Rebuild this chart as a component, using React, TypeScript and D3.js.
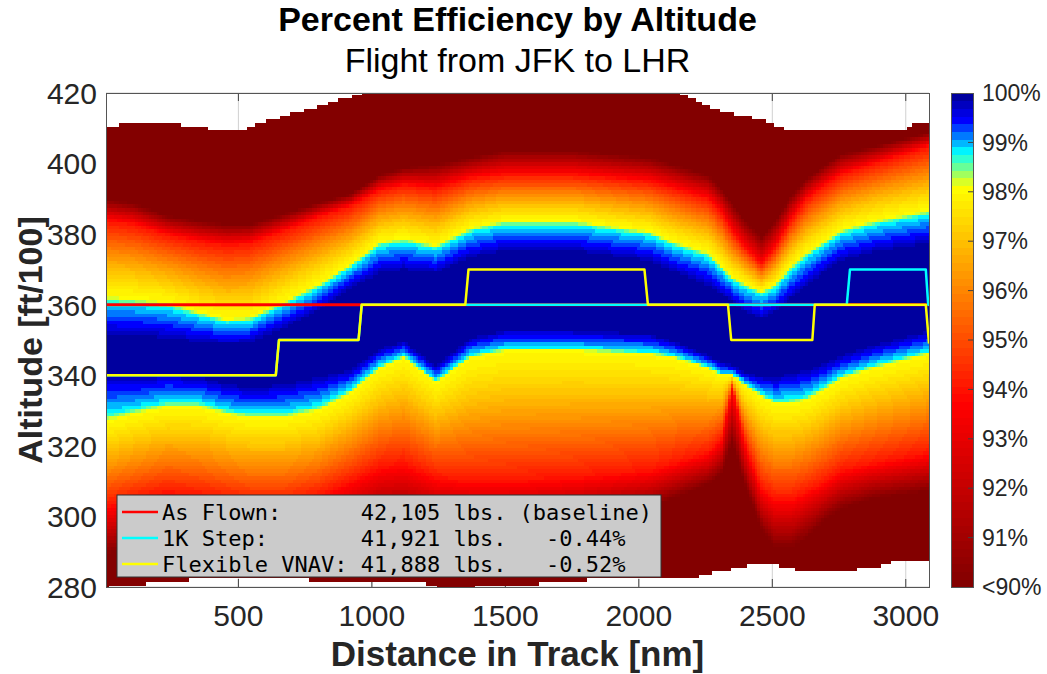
import React from "react";
import * as d3 from "d3";

const bandDist = [4, 106, 231, 356, 456, 544, 669, 800, 920, 1030, 1120, 1240, 1370, 1500, 1750, 2040, 2130, 2260, 2310, 2350, 2400, 2460, 2510, 2570, 2630, 2700, 2760, 2880, 3087];
// altitude (ft/100) where each efficiency level is reached, above and below the optimum
const upper90 = [390, 389, 385.5, 384, 383, 383, 386, 389, 391.5, 397, 399, 400, 402, 404, 404, 402, 400, 397, 393, 389, 384, 379.5, 384, 391, 396, 400, 403, 405, 409];
const upper94 = [384, 383, 380, 378, 377, 377.5, 381, 385, 388, 392.5, 394, 393, 396, 397, 397, 395, 393, 390, 386, 381, 376, 371.5, 376, 384, 390, 394, 397, 400, 405];
const upper98 = [362.5, 362, 361, 358, 356, 356.5, 361, 366, 371.5, 378, 379, 377, 382, 384, 384, 381, 378, 375, 371, 368, 366, 364, 366, 371, 375, 378.5, 381.5, 384, 387];
const coreTop = [351, 351, 350, 349, 348.5, 349, 353, 358, 364.5, 368.5, 369.5, 368.5, 373, 375, 375, 372, 369, 365, 362.5, 360.5, 357.5, 355.5, 357.5, 361.5, 365, 369, 372, 374.5, 377];
const coreBottom = [341, 340, 341, 340, 338, 337, 338, 340, 342, 348, 350, 343, 351, 353, 353, 352, 350, 346, 344, 343, 341, 340, 340, 341, 342, 344, 346, 349, 353];
const lower98 = [327, 329, 331, 331, 329, 328, 328, 330, 335, 342, 345, 338, 345, 347, 347, 346, 345, 342, 340, 340, 337, 334, 332, 332, 333, 336, 339, 342, 346];
const lower94 = [303, 305, 307, 306, 305, 304, 304, 306, 310, 314, 315, 311, 310, 310, 311, 313, 315, 318, 322, 337, 320, 308, 305, 305, 307, 310, 313, 315, 318];
const lower90 = [289, 291, 293, 293, 292, 291, 291, 292, 295, 298, 298, 297, 296, 296, 298, 302, 305, 309, 312, 321, 308, 296, 291, 291, 294, 299, 302, 305, 307];

// limits of the computed grid (white outside)
const ceilDist = [4, 56, 60, 280, 290, 375, 385, 530, 540, 588, 630, 675, 720, 769, 810, 856, 900, 944, 980, 2140, 2169, 2200, 2244, 2280, 2319, 2394, 2450, 2490, 2519, 2569, 2995, 3005, 3025, 3030, 3087];
const ceilAlt = [410, 410, 411, 411, 410, 410, 409, 409, 410, 411, 412, 413, 414, 415, 416, 417, 418, 419, 420, 420, 419, 418, 416, 415, 414, 413, 412, 411, 410, 409, 409, 410, 410, 411, 411];
const floorDist = [4, 30, 280, 356, 1181, 1268, 1744, 1869, 2200, 2300, 2380, 2420, 2500, 2550, 2620, 2750, 2880, 2960, 3087];
const floorAlt = [280, 281, 282, 283, 282, 280, 282, 283, 283, 285, 286, 287, 287, 286, 285, 285, 286, 288, 288];

// altitude profiles
const asFlownDist = [4, 3087];
const asFlownAlt = [360, 360];
const stepDist = [4, 640, 652, 950, 962, 2779, 2791, 3075, 3084, 3087];
const stepAlt = [340, 340, 350, 350, 360, 360, 370, 370, 360, 360];
const vnavDist = [4, 640, 652, 950, 962, 1350, 1362, 2021, 2034, 2334, 2346, 2650, 2659, 3075, 3087];
const vnavAlt = [340, 340, 350, 350, 360, 360, 370, 370, 360, 360, 350, 350, 360, 360, 349];

const legendColors = ["#ff0000", "#00ffff", "#ffff00"];
const legendText = [
  "As Flown:      42,105 lbs. (baseline)",
  "1K Step:       41,921 lbs.   -0.44%",
  "Flexible VNAV: 41,888 lbs.   -0.52%",
];

const xTicks = [500, 1000, 1500, 2000, 2500, 3000];
const yTicks = [280, 300, 320, 340, 360, 380, 400, 420];
const cbTicks = [90, 91, 92, 93, 94, 95, 96, 97, 98, 99, 100];
const cbLabels = ["<90%", "91%", "92%", "93%", "94%", "95%", "96%", "97%", "98%", "99%", "100%"];

const W = 1047;
const H = 674;
const plot = { left: 106, right: 929, top: 93, bottom: 587 };
const cbar = { left: 951, right: 973 };
const FONT = "'Liberation Sans', Arial, Helvetica, sans-serif";

const x = d3.scaleLinear().domain([4, 3087]).range([plot.left, plot.right]);
const y = d3.scaleLinear().domain([280, 420]).range([plot.bottom, plot.top]);
const cy = d3.scaleLinear().domain([90, 100]).range([plot.bottom, plot.top]);

const effColor = d3.scaleLinear<string>()
  .domain([90, 93.7, 98.1, 98.8, 99.45, 100])
  .range(["#800000", "#ff0000", "#ffff00", "#00ffff", "#0000ff", "#00008f"])
  .clamp(true);
const nLevels = 64;
const levelOf = (v: number) => Math.max(0, Math.min(nLevels - 1, Math.floor(((v - 90) / 10) * nLevels)));
const levelColor = (k: number) => effColor(90 + ((k + 0.5) * 10) / nLevels);

const bandScale = (arr: number[]) => d3.scaleLinear().domain(bandDist).range(arr).clamp(true);
const fU90 = bandScale(upper90);
const fU94 = bandScale(upper94);
const fU98 = bandScale(upper98);
const fCT = bandScale(coreTop);
const fCB = bandScale(coreBottom);
const fL98 = bandScale(lower98);
const fL94 = bandScale(lower94);
const fL90 = bandScale(lower90);
const fCeil = d3.scaleLinear().domain(ceilDist).range(ceilAlt).clamp(true);
const fFloor = d3.scaleLinear().domain(floorDist).range(floorAlt).clamp(true);

// falloff shapes between the read levels
const nearCore = d3.scaleLinear().domain([0, 0.15, 0.35, 0.75, 1]).range([98, 98.8, 99.05, 99.55, 99.95]).clamp(true);
const offCore = (s: number) => 98 - 4 * Math.pow(s, 1.3);

function efficiency(d: number, a: number) {
  const u90 = fU90(d), u94 = fU94(d), u98 = fU98(d), cT = fCT(d);
  const cB = fCB(d), l98 = fL98(d), l94 = fL94(d), l90 = fL90(d);
  if (a >= u90) return 89;
  if (a >= u94) return 90 + (4 * (u90 - a)) / (u90 - u94);
  if (a >= u98) return offCore((a - u98) / (u94 - u98));
  if (a > cT) return nearCore((u98 - a) / (u98 - cT));
  if (a >= cB) return 100;
  if (a > l98) return nearCore((a - l98) / (cB - l98));
  if (a > l94) return offCore((l98 - a) / (l98 - l94));
  if (a > l90) return 90 + (4 * (a - l90)) / (l94 - l90);
  return 89;
}

function buildCells() {
  const cells: { x: number; y: number; w: number; h: number; fill: string }[] = [];
  const cols = d3.range(4, 3087, 10);
  cols.forEach((d0) => {
    const d1 = Math.min(d0 + 10, 3087);
    const dc = (d0 + d1) / 2;
    const top = Math.round(fCeil(dc));
    const bot = Math.round(fFloor(dc));
    let runStart = bot;
    let runLevel = levelOf(efficiency(dc, bot));
    const flush = (aEnd: number) => {
      const yTop = y(Math.min(aEnd + 0.5, 420));
      const yBot = y(Math.max(runStart - 0.5, 280));
      cells.push({ x: x(d0), y: yTop, w: x(d1) - x(d0) + 0.4, h: yBot - yTop + 0.3, fill: levelColor(runLevel) });
    };
    for (let a = bot + 1; a <= top; a++) {
      const k = levelOf(efficiency(dc, a));
      if (k !== runLevel) {
        flush(a - 1);
        runStart = a;
        runLevel = k;
      }
    }
    flush(top);
  });
  return cells;
}

function linePath(dist: number[], alt: number[]) {
  return d3.line<number>()
    .x((_, i) => x(dist[i]))
    .y((_, i) => y(alt[i]))(dist) as string;
}

export default function App() {
  const cells = React.useMemo(buildCells, []);
  const bands = d3.range(nLevels);
  const legend = { x: 117, y: 495, w: 544, h: 82 };
  return (
    <svg width={W} height={H} style={{ position: "absolute", left: 0, top: 0, background: "#fff" }}>
      <defs>
        <clipPath id="plotClip">
          <rect x={plot.left} y={plot.top} width={plot.right - plot.left} height={plot.bottom - plot.top} />
        </clipPath>
      </defs>
      {/* grid below the data */}
      <g stroke="#d0d0d0" strokeWidth={1}>
        {xTicks.map((t) => (
          <line key={"gx" + t} x1={x(t)} x2={x(t)} y1={plot.top} y2={plot.bottom} />
        ))}
        {yTicks.map((t) => (
          <line key={"gy" + t} x1={plot.left} x2={plot.right} y1={y(t)} y2={y(t)} />
        ))}
      </g>
      <g stroke="#404040" strokeWidth={1}>
        {xTicks.map((t) => (
          <g key={"tx" + t}>
            <line x1={x(t)} x2={x(t)} y1={plot.bottom} y2={plot.bottom - 8} />
            <line x1={x(t)} x2={x(t)} y1={plot.top} y2={plot.top + 8} />
          </g>
        ))}
      </g>
      {/* efficiency grid */}
      <g shapeRendering="crispEdges">
        {cells.map((c, i) => (
          <rect key={i} x={c.x} y={c.y} width={c.w} height={c.h} fill={c.fill} />
        ))}
      </g>
      {/* altitude profiles */}
      <g clipPath="url(#plotClip)" fill="none" strokeLinejoin="round">
        <path d={linePath(asFlownDist, asFlownAlt)} stroke="#ff0000" strokeWidth={3} />
        <path d={linePath(stepDist, stepAlt)} stroke="#00ffff" strokeWidth={2.5} />
        <path d={linePath(vnavDist, vnavAlt)} stroke="#ffff00" strokeWidth={2.5} />
      </g>
      <rect x={plot.left} y={plot.top} width={plot.right - plot.left} height={plot.bottom - plot.top}
        fill="none" stroke="#555" strokeWidth={1} shapeRendering="crispEdges" />
      {/* legend */}
      <g>
        <rect x={legend.x} y={legend.y} width={legend.w} height={legend.h} fill="#cbcbcb" stroke="#333" strokeWidth={1} />
        {legendText.map((t, i) => {
          const ry = legend.y + 17 + i * 26;
          return (
            <g key={t}>
              <line x1={legend.x + 5} x2={legend.x + 41} y1={ry} y2={ry} stroke={legendColors[i]} strokeWidth={2.5} />
              <text x={legend.x + 45} y={ry} dy="0.36em" fontFamily="'DejaVu Sans Mono', monospace" fontSize={22}
                fill="#000" style={{ whiteSpace: "pre" }}>{t}</text>
            </g>
          );
        })}
      </g>
      {/* axes text */}
      <g fontFamily={FONT} fill="#262626" fontSize={30}>
        {xTicks.map((t) => (
          <text key={"lx" + t} x={x(t)} y={626} textAnchor="middle">{t}</text>
        ))}
        {yTicks.map((t) => (
          <text key={"ly" + t} x={97} y={y(t)} dy="0.36em" textAnchor="end">{t}</text>
        ))}
      </g>
      <text x={517.5} y={666} textAnchor="middle" fontFamily={FONT} fontWeight="bold" fontSize={35} fill="#262626">
        Distance in Track [nm]
      </text>
      <text transform="translate(42,340) rotate(-90)" textAnchor="middle" fontFamily={FONT} fontWeight="bold" fontSize={34} fill="#262626">
        Altitude [ft/100]
      </text>
      <text x={517.5} y={31} textAnchor="middle" fontFamily={FONT} fontWeight="bold" fontSize={34} fill="#000">
        Percent Efficiency by Altitude
      </text>
      <text x={517.5} y={72} textAnchor="middle" fontFamily={FONT} fontSize={34} fill="#000">
        Flight from JFK to LHR
      </text>
      {/* colorbar */}
      <g shapeRendering="crispEdges">
        {bands.map((k) => {
          const v0 = 90 + (k * 10) / nLevels;
          const v1 = 90 + ((k + 1) * 10) / nLevels;
          return <rect key={"cb" + k} x={cbar.left} y={cy(v1)} width={cbar.right - cbar.left} height={cy(v0) - cy(v1) + 0.4} fill={levelColor(k)} />;
        })}
      </g>
      <g stroke="#404040" strokeWidth={1}>
        {cbTicks.slice(1, -1).map((t) => (
          <line key={"ct" + t} x1={cbar.right - 5} x2={cbar.right} y1={cy(t)} y2={cy(t)} />
        ))}
      </g>
      <rect x={cbar.left} y={plot.top} width={cbar.right - cbar.left} height={plot.bottom - plot.top}
        fill="none" stroke="#555" strokeWidth={1} shapeRendering="crispEdges" />
      <g fontFamily={FONT} fontSize={23} fill="#262626">
        {cbTicks.map((t, i) => (
          <text key={"cl" + t} x={982} y={cy(t)} dy="0.36em">{cbLabels[i]}</text>
        ))}
      </g>
    </svg>
  );
}
